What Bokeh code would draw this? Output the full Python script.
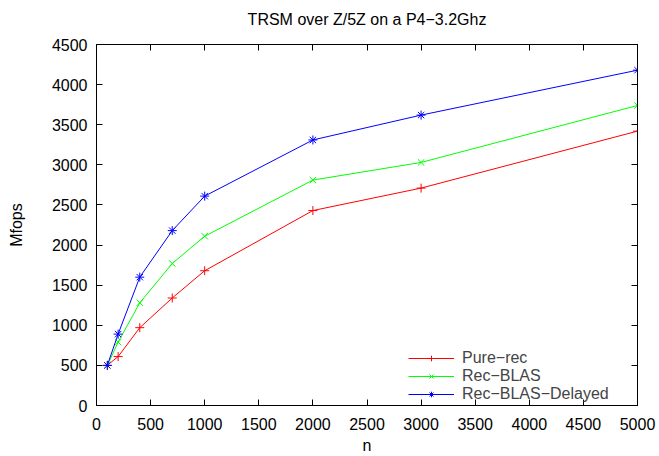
from bokeh.plotting import figure
from bokeh.models import LinearAxis, Range1d, FixedTicker, Legend, LegendItem
from bokeh.embed import file_html
from bokeh.resources import INLINE

n_values = [100, 200, 400, 700, 1000, 2000, 3000, 5000]
pure_rec = [500, 610, 970, 1340, 1680, 2430, 2710, 3420]
rec_blas = [500, 790, 1280, 1770, 2110, 2810, 3030, 3740]
rec_blas_delayed = [500, 890, 1600, 2180, 2610, 3310, 3620, 4180]

series_names = ["Pure\u2212rec", "Rec\u2212BLAS", "Rec\u2212BLAS\u2212Delayed"]
series_colors = ["#ff0000", "#00ff00", "#0000ff"]
series_markers = ["cross", "x", "asterisk"]

x_ticks = [0, 500, 1000, 1500, 2000, 2500, 3000, 3500, 4000, 4500, 5000]
y_ticks = [0, 500, 1000, 1500, 2000, 2500, 3000, 3500, 4000, 4500]

TITLE = "TRSM over Z/5Z on a P4\u22123.2Ghz"
FONT = "Liberation Sans"

p = figure(width=659, height=456, output_backend="svg", toolbar_location=None,
           x_range=Range1d(0, 5000), y_range=Range1d(0, 4500),
           min_border_left=96, min_border_right=22, min_border_top=44, min_border_bottom=50)

p.xgrid.visible = False
p.ygrid.visible = False
p.outline_line_color = "black"
p.outline_line_width = 1
p.background_fill_color = "white"
p.border_fill_color = "white"

for ax in p.xaxis:
    ax.ticker = FixedTicker(ticks=x_ticks)
    ax.axis_label = "n"
for ax in p.yaxis:
    ax.ticker = FixedTicker(ticks=y_ticks)
    ax.axis_label = "Mfops"

right_axis = LinearAxis(ticker=FixedTicker(ticks=y_ticks),
                        major_label_overrides={t: "" for t in y_ticks},
                        major_label_standoff=0)
top_axis = LinearAxis(ticker=FixedTicker(ticks=x_ticks),
                      major_label_overrides={t: "" for t in x_ticks},
                      major_label_standoff=0, axis_label=TITLE)
p.add_layout(right_axis, "right")
p.add_layout(top_axis, "above")

for ax in list(p.xaxis) + list(p.yaxis):
    ax.major_tick_in = 6
    ax.major_tick_out = 0
    ax.minor_tick_line_color = None
    ax.axis_line_color = "black"
    ax.major_label_text_font = FONT
    ax.major_label_text_font_size = "16px"
    ax.major_label_text_color = "black"
    ax.axis_label_text_font = FONT
    ax.axis_label_text_font_size = "16px"
    ax.axis_label_text_font_style = "normal"
    ax.axis_label_text_color = "black"

p.below[0].major_label_standoff = 12
p.below[0].axis_label_standoff = 4
p.left[0].major_label_standoff = 9
p.left[0].axis_label_standoff = 24
top_axis.major_label_standoff = 0
top_axis.axis_label_standoff = 17
right_axis.major_label_standoff = 0

items = []
for name, ys, color, marker in zip(series_names, [pure_rec, rec_blas, rec_blas_delayed],
                                    series_colors, series_markers):
    ln = p.line(n_values, ys, line_color=color, line_width=1)
    sc = p.scatter(n_values, ys, marker=marker, size=9, line_color=color, line_width=1)
    items.append(LegendItem(label=name, renderers=[ln, sc]))

legend = Legend(items=items, location=(312, 2), border_line_color=None,
                background_fill_alpha=0, label_text_font=FONT, label_text_font_size="16px",
                glyph_width=46, glyph_height=14, label_height=14, spacing=0, padding=2,
                margin=0, label_standoff=8)
p.add_layout(legend, "center")

open("out.html", "w").write(file_html(p, INLINE))
